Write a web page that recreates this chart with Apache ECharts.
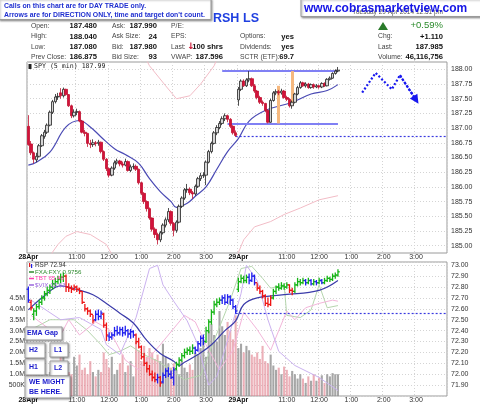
<!DOCTYPE html>
<html>
<head>
<meta charset="utf-8">
<script src="https://cdn.jsdelivr.net/npm/echarts@6/dist/echarts.min.js"></script>
<style>
  html, body { margin: 0; padding: 0; background: #fff; }
  #chart { width: 480px; height: 406px; }
</style>
</head>
<body>
<div id="chart"></div>
<script>
  // x axis: two sessions of 5 min bars
  const days = ['28Apr', '29Apr']
  const hourLabels = ['11:00', '12:00', '1:00', '2:00', '3:00']
  const barsPerDay = 78

  // tick labels
  const spyTicks = [185.00, 185.25, 185.50, 185.75, 186.00, 186.25, 186.50, 186.75, 187.00, 187.25, 187.50, 187.75, 188.00]
  const rspTicks = [71.9, 72.0, 72.1, 72.2, 72.3, 72.4, 72.5, 72.6, 72.7, 72.8, 72.9, 73.0]
  const volTicks = [0.5, 1.0, 1.5, 2.0, 2.5, 3.0, 3.5, 4.0, 4.5]

  // SPY 5 min candles [open, close, low, high]
  const spyDay1 = [
    [187.03, 186.72, 186.70, 187.22], [186.73, 186.58, 186.54, 186.78], [186.58, 186.47, 186.40, 186.60], [186.46, 186.52, 186.42, 186.58],
    [186.52, 186.70, 186.50, 186.73], [186.70, 186.87, 186.68, 186.90], [186.86, 186.93, 186.82, 186.97], [186.93, 187.05, 186.90, 187.08],
    [187.05, 187.27, 187.03, 187.30], [187.27, 187.45, 187.24, 187.48], [187.45, 187.53, 187.42, 187.58], [187.53, 187.54, 187.48, 187.60],
    [187.60, 187.55, 187.50, 187.68], [187.55, 187.66, 187.52, 187.69], [187.66, 187.57, 187.55, 187.67], [187.57, 187.38, 187.36, 187.58],
    [187.38, 187.21, 187.17, 187.40], [187.21, 187.27, 187.18, 187.32], [187.27, 187.28, 187.22, 187.33], [187.28, 187.12, 187.10, 187.30],
    [187.12, 186.93, 186.91, 187.14], [186.93, 186.91, 186.86, 186.97], [186.91, 186.74, 186.68, 186.92], [186.74, 186.72, 186.66, 186.80],
    [186.72, 186.75, 186.68, 186.81], [186.75, 186.74, 186.69, 186.78], [186.74, 186.76, 186.70, 186.80], [186.76, 186.60, 186.57, 186.77],
    [186.60, 186.47, 186.44, 186.62], [186.47, 186.31, 186.27, 186.49], [186.31, 186.20, 186.16, 186.33], [186.20, 186.32, 186.18, 186.35],
    [186.32, 186.41, 186.29, 186.45], [186.41, 186.44, 186.38, 186.48], [186.44, 186.39, 186.35, 186.46], [186.39, 186.37, 186.33, 186.43],
    [186.37, 186.43, 186.35, 186.48], [186.43, 186.28, 186.26, 186.45], [186.28, 186.34, 186.25, 186.38], [186.34, 186.35, 186.30, 186.40],
    [186.35, 186.30, 186.27, 186.38], [186.30, 186.07, 186.04, 186.31], [186.07, 185.89, 185.86, 186.09], [185.89, 185.75, 185.71, 185.91],
    [185.75, 185.63, 185.58, 185.77], [185.63, 185.47, 185.44, 185.65], [185.47, 185.28, 185.24, 185.48], [185.28, 185.19, 185.13, 185.31],
    [185.19, 185.10, 185.02, 185.22], [185.10, 185.22, 185.06, 185.25], [185.22, 185.35, 185.19, 185.38], [185.35, 185.44, 185.31, 185.48],
    [185.44, 185.58, 185.40, 185.64], [185.58, 185.38, 185.34, 185.60], [185.38, 185.26, 185.16, 185.40], [185.26, 185.40, 185.22, 185.43],
    [185.40, 185.67, 185.38, 185.70], [185.67, 185.81, 185.64, 185.84], [185.81, 185.95, 185.78, 185.98], [185.95, 185.96, 185.90, 186.05],
    [185.96, 185.90, 185.86, 185.99], [185.90, 185.88, 185.80, 185.93], [185.88, 186.01, 185.85, 186.04], [186.01, 186.14, 185.98, 186.17],
    [186.14, 186.19, 186.10, 186.24], [186.19, 186.20, 186.15, 186.25], [186.20, 186.42, 186.03, 186.45], [186.42, 186.60, 186.40, 186.63],
    [186.60, 186.74, 186.57, 186.77], [186.74, 186.92, 186.72, 186.95], [186.92, 187.01, 186.88, 187.05], [187.01, 187.08, 186.98, 187.12],
    [187.08, 187.16, 187.05, 187.20], [187.16, 187.21, 187.12, 187.25], [187.21, 187.15, 187.10, 187.23], [187.15, 187.03, 187.00, 187.17],
    [187.03, 186.92, 186.89, 187.05], [186.92, 186.875, 186.85, 186.96]
  ]
  const spyDay2 = [
    [187.48, 187.66, 187.38, 187.70], [187.66, 187.80, 187.63, 187.83], [187.80, 187.72, 187.70, 187.83], [187.72, 187.82, 187.70, 187.85],
    [187.82, 187.84, 187.78, 187.97], [187.84, 187.72, 187.70, 187.86], [187.72, 187.63, 187.60, 187.75], [187.63, 187.52, 187.49, 187.65],
    [187.52, 187.44, 187.41, 187.55], [187.44, 187.42, 187.38, 187.47], [187.42, 187.30, 187.27, 187.43], [187.30, 187.10, 187.08, 187.32],
    [187.10, 187.47, 187.09, 187.50], [187.47, 187.60, 187.45, 187.63], [187.60, 187.62, 187.56, 187.66], [187.62, 187.60, 187.56, 187.65],
    [187.60, 187.63, 187.57, 187.67], [187.63, 187.52, 187.50, 187.65], [187.52, 187.49, 187.46, 187.55], [187.49, 187.38, 187.35, 187.51],
    [187.38, 187.44, 187.33, 187.47], [187.44, 187.58, 187.42, 187.60], [187.58, 187.69, 187.56, 187.72], [187.69, 187.77, 187.67, 187.80],
    [187.77, 187.72, 187.70, 187.79], [187.72, 187.75, 187.69, 187.78], [187.75, 187.69, 187.67, 187.77], [187.69, 187.74, 187.67, 187.76],
    [187.74, 187.70, 187.67, 187.76], [187.70, 187.72, 187.68, 187.75], [187.72, 187.70, 187.67, 187.74], [187.70, 187.76, 187.68, 187.78],
    [187.76, 187.72, 187.70, 187.78], [187.72, 187.83, 187.71, 187.85], [187.83, 187.85, 187.81, 187.88], [187.85, 187.93, 187.84, 187.95],
    [187.93, 187.97, 187.91, 188.00], [187.97, 187.985, 187.95, 188.04]
  ]

  // SPY moving average and bands, [bar, value]
  const spyMA = [[0, 186.37], [3, 186.42], [8, 186.59], [14, 187.02], [19, 187.13], [23, 187.02], [27, 186.85], [32, 186.65],
    [36, 186.55], [41, 186.40], [45, 186.14], [49, 185.92], [53, 185.75], [55, 185.65], [59, 185.72], [62, 185.84],
    [66, 186.00], [70, 186.30], [74, 186.60], [78, 186.82], [82, 187.12], [88, 187.30], [98, 187.44], [105, 187.58],
    [111, 187.64], [115, 187.74]]
  const bandUpper = [[40, 188.50], [45, 188.06], [51, 187.72], [55, 187.50], [60, 187.55], [64, 187.75], [69, 188.06], [73, 188.50]]
  const bandLower1 = [[5, 184.50], [9, 184.89], [11, 185.02], [14, 185.16], [18, 185.24], [23, 185.19], [29, 185.02], [31, 184.85], [35, 184.50]]
  const bandLower2 = [[76, 184.40], [78, 184.88], [80, 185.10], [84, 185.32], [90, 185.41], [95, 185.53], [101, 185.64], [108, 185.78], [115, 185.85]]

  // drawn annotations on SPY: [from bar, to bar, price] / [bar, low, high]
  const spyLevels = [[72, 115, 187.98], [74, 115, 187.07]]
  const spyPivot = [77, 155, 186.86]
  const spyOrange = [[93, 187.08, 187.72], [98, 187.38, 187.97]]
  const arrowPath = [[124, 187.605], [129, 187.94], [135, 187.66], [138, 187.90], [144, 187.48]]

  // RSP 5 min bars [open, close, low, high] and impulse colour code
  const rspDay1 = [
    [72.78, 72.68, 72.66, 72.80], [72.66, 72.61, 72.59, 72.68], [72.55, 72.58, 72.50, 72.60], [72.58, 72.62, 72.54, 72.64],
    [72.62, 72.66, 72.60, 72.68], [72.66, 72.70, 72.64, 72.72], [72.70, 72.74, 72.68, 72.76], [72.74, 72.77, 72.72, 72.80],
    [72.77, 72.80, 72.74, 72.82], [72.80, 72.83, 72.78, 72.86], [72.83, 72.85, 72.80, 72.88], [72.85, 72.87, 72.83, 72.90],
    [72.87, 72.89, 72.84, 72.92], [72.89, 72.90, 72.85, 72.93], [72.90, 72.80, 72.76, 72.91], [72.80, 72.79, 72.76, 72.83],
    [72.79, 72.78, 72.75, 72.81], [72.78, 72.80, 72.77, 72.82], [72.80, 72.78, 72.76, 72.81], [72.78, 72.76, 72.74, 72.79],
    [72.76, 72.66, 72.65, 72.76], [72.66, 72.60, 72.58, 72.64], [72.60, 72.58, 72.55, 72.61], [72.58, 72.55, 72.53, 72.59],
    [72.55, 72.49, 72.47, 72.54], [72.50, 72.55, 72.49, 72.58], [72.55, 72.53, 72.50, 72.59], [72.53, 72.56, 72.51, 72.58],
    [72.55, 72.45, 72.43, 72.56], [72.45, 72.36, 72.31, 72.47], [72.35, 72.34, 72.31, 72.38], [72.34, 72.36, 72.32, 72.38],
    [72.36, 72.40, 72.35, 72.43], [72.40, 72.38, 72.36, 72.44], [72.38, 72.41, 72.36, 72.43], [72.41, 72.38, 72.35, 72.43],
    [72.38, 72.40, 72.36, 72.44], [72.40, 72.37, 72.34, 72.41], [72.37, 72.39, 72.33, 72.41], [72.39, 72.36, 72.34, 72.40],
    [72.36, 72.30, 72.28, 72.37], [72.30, 72.25, 72.24, 72.33], [72.25, 72.16, 72.14, 72.26], [72.16, 72.10, 72.08, 72.19],
    [72.10, 72.05, 72.02, 72.11], [72.05, 72.00, 71.99, 72.08], [72.00, 71.97, 71.94, 72.03], [71.97, 71.95, 71.93, 72.01],
    [71.95, 71.97, 71.92, 72.00], [71.97, 71.92, 71.89, 71.98], [71.93, 71.99, 71.92, 72.01], [71.99, 72.03, 71.97, 72.05],
    [72.03, 72.00, 71.98, 72.06], [72.00, 71.97, 71.96, 72.03], [71.97, 72.04, 71.90, 72.06], [72.05, 72.09, 72.04, 72.11],
    [72.09, 72.13, 72.07, 72.15], [72.13, 72.17, 72.12, 72.19], [72.17, 72.20, 72.15, 72.23], [72.20, 72.22, 72.18, 72.24],
    [72.22, 72.21, 72.18, 72.25], [72.21, 72.24, 72.19, 72.27], [72.24, 72.22, 72.19, 72.25], [72.22, 72.28, 72.21, 72.30],
    [72.28, 72.33, 72.26, 72.35], [72.33, 72.30, 72.27, 72.36], [72.30, 72.40, 72.29, 72.43], [72.40, 72.48, 72.38, 72.50],
    [72.48, 72.57, 72.46, 72.59], [72.57, 72.64, 72.55, 72.67], [72.64, 72.66, 72.62, 72.69], [72.66, 72.68, 72.64, 72.70],
    [72.68, 72.70, 72.65, 72.72], [72.70, 72.66, 72.64, 72.73], [72.66, 72.71, 72.65, 72.73], [72.71, 72.68, 72.64, 72.72],
    [72.68, 72.62, 72.60, 72.69], [72.62, 72.58, 72.56, 72.63]
  ]
  const rspDay2 = [
    [72.78, 72.85, 72.76, 72.88], [72.85, 72.88, 72.84, 72.91], [72.88, 72.86, 72.84, 72.90], [72.86, 72.89, 72.84, 72.91],
    [72.89, 72.86, 72.83, 72.92], [72.86, 72.90, 72.85, 72.93], [72.90, 72.84, 72.82, 72.91], [72.84, 72.79, 72.77, 72.83],
    [72.79, 72.76, 72.74, 72.81], [72.76, 72.72, 72.70, 72.77], [72.72, 72.65, 72.63, 72.73], [72.65, 72.64, 72.62, 72.70],
    [72.64, 72.70, 72.63, 72.72], [72.70, 72.76, 72.69, 72.78], [72.76, 72.80, 72.74, 72.81], [72.80, 72.79, 72.77, 72.83],
    [72.79, 72.81, 72.78, 72.84], [72.81, 72.80, 72.78, 72.83], [72.80, 72.82, 72.79, 72.84], [72.82, 72.77, 72.75, 72.82],
    [72.77, 72.76, 72.73, 72.79], [72.76, 72.82, 72.75, 72.84], [72.82, 72.85, 72.81, 72.88], [72.85, 72.84, 72.82, 72.87],
    [72.84, 72.86, 72.83, 72.88], [72.86, 72.84, 72.82, 72.87], [72.84, 72.86, 72.83, 72.88], [72.86, 72.83, 72.82, 72.87],
    [72.83, 72.85, 72.82, 72.87], [72.85, 72.84, 72.82, 72.86], [72.84, 72.86, 72.83, 72.88], [72.86, 72.84, 72.83, 72.87],
    [72.84, 72.86, 72.83, 72.88], [72.86, 72.88, 72.85, 72.90], [72.88, 72.87, 72.85, 72.89], [72.87, 72.90, 72.86, 72.92],
    [72.90, 72.91, 72.88, 72.93], [72.91, 72.94, 72.90, 72.96]
  ]
  const rspImpulse1 = 'brgggggggggggg' + 'rrrrrrrrrrr' + 'bbb' + 'rr' + 'bbbbbbbbbb' + 'rrrrrrrr' + 'br' + 'bbbbb' + 'ggggggg' + 'bbbb' + 'gggggg' + 'bbbbbb'
  const rspImpulse2 = 'gggg' + 'bbb' + 'rrrrrr' + 'gggggg' + 'rr' + 'gggg' + 'bgbgbgb' + 'gggggg'
  const rspMA = [[0, 72.59], [6, 72.72], [12, 72.81], [19, 72.77], [24, 72.73], [29, 72.65], [34, 72.56], [39, 72.47],
    [44, 72.31], [49, 72.19], [54, 72.12], [56, 72.08], [58, 72.11], [63, 72.18], [68, 72.27], [73, 72.40],
    [77, 72.49], [80, 72.64], [85, 72.70], [95, 72.73], [108, 72.77], [115, 72.86]]
  const rspPivot = [77, 155, 72.56]

  // volume, millions
  const volDay1 = [2.2, 1.6, 1.4, 1.3, 1.1, 1.2, 0.9, 1.0, 1.1, 0.8, 1.0, 0.9,
    1.8, 1.9, 1.2, 1.1, 1.0, 1.8, 1.4, 1.9, 1.2,
    1.3, 1.0, 1.6, 1.1, 0.9, 1.2, 1.1, 2.0, 1.7, 1.3, 1.8, 1.0, 1.2,
    1.5, 1.9, 1.1, 1.4, 1.6, 0.9, 2.5, 2.1, 1.6, 2.3, 1.8,
    2.2, 2.0, 1.7, 1.9, 1.6, 2.4, 1.8, 1.5, 1.3,
    1.5, 1.2, 1.0, 1.6, 1.3, 1.1, 1.45, 1.2, 2.0, 1.9,
    2.2, 2.6, 1.8, 3.0, 3.3, 2.8, 2.5, 3.9, 3.2, 2.8, 3.4, 3.0, 2.6, 3.7]
  const volDay2 = [2.2, 2.4, 2.0, 2.3, 2.1, 1.9, 1.8, 2.0, 1.7, 2.3, 1.6, 1.5, 1.9,
    1.4, 1.2, 1.3, 1.0, 1.35, 1.2, 0.9, 1.15, 1.0, 0.8,
    1.0, 0.8, 0.6, 0.9, 0.7, 1.0, 0.7, 0.85, 0.95, 0.6, 1.0, 0.9, 1.05, 1.0, 1.0]

  // comparison lines in the lower panel, [bar, value on RSP scale]
  const fxaFxy = [[1, 72.41], [8, 72.50], [17, 72.50], [22, 72.40], [27, 72.27], [30, 72.18], [34, 72.21], [38, 72.26],
    [43, 72.18], [48, 72.12], [53, 72.04], [58, 71.95], [64, 71.99], [69, 72.31], [75, 72.68], [79, 72.97],
    [83, 72.99], [87, 72.88], [90, 72.79], [95, 72.82], [96, 72.54], [101, 72.52], [105, 72.59], [108, 72.82],
    [111, 72.61], [115, 72.63]]
  const tbt = [[1, 72.54], [8, 72.41], [12, 72.36], [15, 72.50], [19, 72.36], [25, 72.48], [30, 72.41], [36, 72.13],
    [41, 72.04], [49, 72.27], [58, 72.54], [62, 72.48], [66, 72.27], [71, 72.04], [76, 72.22], [80, 72.57],
    [85, 72.41], [90, 72.22], [96, 72.58], [99, 72.50], [103, 72.61], [108, 72.65], [113, 72.68], [115, 72.67]]
  const vix = [[1, 72.68], [12, 72.50], [19, 72.52], [27, 72.41], [29, 72.27], [34, 72.18], [40, 72.52], [45, 72.97],
    [48, 73.00], [50, 72.82], [54, 72.67], [59, 72.49], [63, 72.27], [67, 71.90], [70, 71.98], [74, 72.31],
    [79, 72.74], [81, 73.00], [85, 72.86], [89, 72.50], [93, 72.21], [99, 72.08], [108, 71.97], [115, 71.85]]

  // quote panel
  const quoteLabels = [
    ['Open:', 'High:', 'Low:', 'Prev Close:'],
    ['Ask:', 'Ask Size:', 'Bid:', 'Bid Size:'],
    ['P/E:', 'EPS:', 'Last:', 'VWAP:'],
    ['', 'Options:', 'Dividends:', 'SCTR (ETF):'],
    ['', 'Chg:', 'Last:', 'Volume:']
  ]
  const quoteValues = [
    ['187.480', '188.040', '187.080', '186.875'],
    ['187.990', '24', '187.980', '93'],
    ['', '', '100 shrs', '187.596'],
    ['', 'yes', 'yes', '69.7'],
    ['', '+1.110', '187.985', '46,116,756']
  ]

  const categories = []
  days.forEach(d => {
    for (let k = 0; k < barsPerDay; k++) {
      const min = 570 + k * 5
      const h = Math.floor(min / 60)
      const m = min % 60
      categories.push(d + ' ' + (h > 12 ? h - 12 : h) + ':' + (m < 10 ? '0' + m : m))
    }
  })
  const cat = i => categories[i]
  const isMark = (i, v) => {
    const t = v.split(' ')[1]
    return t === '9:30' || hourLabels.indexOf(t) >= 0
  }
  const tickLabel = v => {
    const p = v.split(' ')
    return p[1] === '9:30' ? '{d|' + p[0] + '}' : p[1]
  }
  const inList = (list, v) => list.some(t => Math.abs(t - v) < 1e-6)

  const spyCandles = spyDay1.concat(spyDay2)
  const rspBars = rspDay1.concat(rspDay2)
  const rspImpulse = (rspImpulse1 + rspImpulse2).split('')
  const impulseColors = { g: '#14b414', b: '#2020ee', r: '#ee1414' }
  const volumes = volDay1.concat(volDay2)

  const FONT = '"Liberation Sans", Arial, sans-serif'
  const gridLine = { show: true, lineStyle: { color: '#d4d4d4', type: [1, 2], width: 1 } }

  function xAxisFor(gridIndex) {
    return {
      type: 'category',
      gridIndex: gridIndex,
      data: categories,
      boundaryGap: true,
      axisLine: { show: false },
      axisTick: { show: false },
      axisLabel: {
        interval: isMark,
        formatter: tickLabel,
        color: '#333',
        fontSize: 7,
        margin: 1,
        rich: { d: { fontWeight: 'bold', color: '#111', fontSize: 7 } }
      },
      splitLine: { show: true, interval: isMark, lineStyle: gridLine.lineStyle }
    }
  }

  function txt(x, y, s, font, fill, align) {
    return {
      type: 'text', x: x, y: y, z: 100,
      style: { text: s, font: font, fill: fill, align: align || 'left', verticalAlign: 'middle', textAlign: align || 'left', textVerticalAlign: 'middle' }
    }
  }
  function box(x, y, w, h) {
    return {
      type: 'rect', z: 99,
      shape: { x: x, y: y, width: w, height: h },
      style: { fill: '#fff', stroke: '#9a9a9a', lineWidth: 1, shadowBlur: 2, shadowOffsetX: 1, shadowOffsetY: 1, shadowColor: 'rgba(0,0,0,0.35)' }
    }
  }

  // header and annotation boxes
  const graphics = []
  const rowY = [26, 36.5, 47, 57]
  const labelX = [31, 112, 171, 240, 378]
  const valueX = [97, 157, 223, 294, 443]
  quoteLabels.forEach((col, c) => {
    col.forEach((s, r) => {
      if (s) graphics.push(txt(labelX[c], rowY[r], s, '6.8px ' + FONT, '#444'))
      const v = quoteValues[c][r]
      if (v) graphics.push(txt(valueX[c], rowY[r], v, 'bold 7.6px ' + FONT, '#111', 'right'))
    })
  })
  graphics.push(txt(191, 47, '\u2193', 'bold 9px "DejaVu Sans"', '#c8102e', 'center'))
  graphics.push(txt(443, 12.5, 'Tuesday 29 Apr 2014 12:51 pm', '6.5px ' + FONT, '#555', 'right'))
  graphics.push({ type: 'polygon', z: 100, shape: { points: [[378, 30], [383, 22], [388, 30]] }, style: { fill: '#2a7a2a' } })
  graphics.push(txt(443, 25.5, '+0.59%', '9.5px ' + FONT, '#2a8a2a', 'right'))
  graphics.push(txt(213, 19, 'RSH', 'bold 12.5px ' + FONT, '#1f3fe0'))
  graphics.push(txt(243, 19, 'LS', 'bold 12.5px ' + FONT, '#1f3fe0'))
  graphics.push(box(-1, -1, 212, 20.5))
  graphics.push(txt(4, 6, 'Calls on this chart are for DAY TRADE only.', 'bold 6.9px ' + FONT, '#1f2fd0'))
  graphics.push(txt(4, 15, 'Arrows are for DIRECTION ONLY, time and target don\'t count.', 'bold 6.9px ' + FONT, '#1f2fd0'))
  graphics.push(box(301, -1, 182, 17.5))
  graphics.push(txt(304, 8.5, 'www.cobrasmarketview.com', 'bold 12px ' + FONT, '#1515e6'))

  // panel legends
  graphics.push({ type: 'rect', z: 100, shape: { x: 28.5, y: 64, width: 3, height: 5 }, style: { fill: '#222' } })
  graphics.push(txt(34, 66.5, 'SPY (5 min) 187.99', '6.6px "DejaVu Sans Mono"', '#222'))
  graphics.push({ type: 'rect', z: 100, shape: { x: 29, y: 263, width: 1.2, height: 4 }, style: { fill: '#e02020' } })
  graphics.push({ type: 'rect', z: 100, shape: { x: 31, y: 264, width: 1.2, height: 4 }, style: { fill: '#2020e0' } })
  graphics.push(txt(35, 265.5, 'RSP 72.94', '6.4px ' + FONT, '#333'))
  const legendRows = [['FXA:FXY 0.9756', '#2d8a2d', 272], ['TBT 65.46', '#ff40b0', 278.5], ['$VIX 13.63', '#9a66dd', 285]]
  legendRows.forEach(r => {
    graphics.push({ type: 'line', z: 100, shape: { x1: 29, y1: r[2], x2: 34, y2: r[2] }, style: { stroke: r[1], lineWidth: 1.5 } })
    graphics.push(txt(35, r[2], r[0], '6.2px ' + FONT, r[1]))
  })

  // hand-drawn notes in the lower panel
  const noteFont = 'bold 7px ' + FONT
  const noteColor = '#1a1acc'
  graphics.push(box(25, 327, 37, 13), txt(27, 333.5, 'EMA Gap', noteFont, noteColor))
  graphics.push(box(25, 343, 20, 15), txt(29, 350.5, 'H2', noteFont, noteColor))
  graphics.push(box(50, 343, 18, 14), txt(54, 350, 'L1', noteFont, noteColor))
  graphics.push(box(25, 359, 20, 16), txt(29, 367, 'H1', noteFont, noteColor))
  graphics.push(box(50, 361, 18, 15), txt(54, 368.5, 'L2', noteFont, noteColor))
  graphics.push(box(25, 376, 45, 22), txt(29, 382, 'WE MIGHT', noteFont, noteColor), txt(29, 392, 'BE HERE.', noteFont, noteColor))

  const levelLine = { color: '#8080f4', width: 2, type: 'solid' }
  const pivotLine = { color: '#3a3ae0', width: 1.2, type: [2, 2] }
  const orangeLine = { color: '#f6b87e', width: 3, type: 'solid' }
  const arrowStyle = { color: '#1818f0', width: 2.2, type: [2, 2] }

  const chart = echarts.init(document.getElementById('chart'), null, { renderer: 'canvas' })
  const option = {
    animation: false,
    backgroundColor: '#fff',
    textStyle: { fontFamily: FONT },
    graphic: graphics,
    grid: [
      { left: 27, right: 33, top: 62, height: 191, show: true, borderColor: '#9a9a9a', borderWidth: 1, backgroundColor: '#fff', outerBoundsMode: 'none', containLabel: false },
      { left: 27, right: 33, top: 262, height: 134, show: true, borderColor: '#9a9a9a', borderWidth: 1, backgroundColor: '#fff', outerBoundsMode: 'none', containLabel: false }
    ],
    xAxis: [xAxisFor(0), xAxisFor(1)],
    yAxis: [
      {
        type: 'value', gridIndex: 0, position: 'right', scale: true,
        min: 184.875, max: 188.125, interval: 0.125,
        axisLine: { show: false }, axisTick: { show: false },
        axisLabel: { formatter: v => inList(spyTicks, v) ? v.toFixed(2) : '', color: '#333', fontSize: 7, margin: 4 },
        splitLine: { show: true, lineStyle: { color: ['rgba(0,0,0,0)', '#d4d4d4'], type: [1, 2] } }
      },
      {
        type: 'value', gridIndex: 1, position: 'right', scale: true,
        min: 71.8, max: 73.03, interval: 0.1,
        axisLine: { show: false }, axisTick: { show: false },
        axisLabel: { formatter: v => inList(rspTicks, v) ? v.toFixed(2) : '', color: '#333', fontSize: 7, margin: 4 },
        splitLine: gridLine
      },
      {
        type: 'value', gridIndex: 1, position: 'left',
        min: 0, max: 6.15, interval: 0.5,
        axisLine: { show: false }, axisTick: { show: false },
        axisLabel: {
          formatter: v => inList(volTicks, v) ? (v < 1 ? Math.round(v * 1000) + 'K' : v.toFixed(1) + 'M') : '',
          color: '#333', fontSize: 7, margin: 2
        },
        splitLine: { show: false }
      }
    ],
    series: [
      { type: 'line', xAxisIndex: 0, yAxisIndex: 0, data: bandUpper, symbol: 'none', silent: true, z: 2, lineStyle: { color: '#f2bcc6', width: 1 } },
      { type: 'line', xAxisIndex: 0, yAxisIndex: 0, data: bandLower1, symbol: 'none', silent: true, z: 2, lineStyle: { color: '#f2bcc6', width: 1 } },
      { type: 'line', xAxisIndex: 0, yAxisIndex: 0, data: bandLower2, symbol: 'none', silent: true, z: 2, lineStyle: { color: '#f2bcc6', width: 1 } },
      { type: 'line', xAxisIndex: 0, yAxisIndex: 0, data: spyMA, symbol: 'none', smooth: 0.4, silent: true, z: 3, lineStyle: { color: '#4a4ab4', width: 1.2 } },
      {
        type: 'candlestick', xAxisIndex: 0, yAxisIndex: 0, data: spyCandles, barWidth: 3, z: 5,
        itemStyle: { color: '#d6d6d6', color0: '#d3123c', borderColor: '#222', borderColor0: '#c0102e', borderWidth: 0.8 },
        markLine: {
          silent: true, symbol: ['none', 'none'], label: { show: false },
          data: spyLevels.map(l => [{ coord: [cat(l[0]), l[2]], lineStyle: levelLine }, { coord: [cat(l[1]), l[2]] }])
            .concat(spyOrange.map(o => [{ coord: [cat(o[0]), o[1]], lineStyle: orangeLine }, { coord: [cat(o[0]), o[2]] }]))
            .concat([[{ coord: [cat(spyPivot[0]), spyPivot[2]], lineStyle: pivotLine }, { coord: [cat(spyPivot[1]), spyPivot[2]] }]])
        }
      },
      {
        type: 'line', xAxisIndex: 0, yAxisIndex: 0, data: arrowPath, symbol: 'none', silent: true, z: 6, lineStyle: arrowStyle,
        markLine: {
          silent: true, symbol: ['none', 'triangle'], symbolSize: 9, label: { show: false },
          lineStyle: arrowStyle,
          data: [[{ coord: [cat(arrowPath[3][0]), arrowPath[3][1]] }, { coord: [cat(arrowPath[4][0]), arrowPath[4][1]] }]]
        }
      },
      {
        type: 'bar', xAxisIndex: 1, yAxisIndex: 2, barWidth: '78%', silent: true, z: 1,
        data: volumes.map((v, i) => ({
          value: v,
          itemStyle: { color: spyCandles[i][1] < spyCandles[i][0] ? 'rgba(224,124,136,0.6)' : 'rgba(145,145,145,0.8)' }
        }))
      },
      { type: 'line', xAxisIndex: 1, yAxisIndex: 1, data: fxaFxy, symbol: 'none', silent: true, z: 2, lineStyle: { color: '#b6d6ae', width: 1 } },
      { type: 'line', xAxisIndex: 1, yAxisIndex: 1, data: tbt, symbol: 'none', silent: true, z: 2, lineStyle: { color: '#f3b6da', width: 1 } },
      { type: 'line', xAxisIndex: 1, yAxisIndex: 1, data: vix, symbol: 'none', silent: true, z: 2, lineStyle: { color: '#cbb2f0', width: 1 } },
      {
        type: 'line', xAxisIndex: 1, yAxisIndex: 1, data: rspMA, symbol: 'none', smooth: 0.4, silent: true, z: 3,
        lineStyle: { color: '#3c3caa', width: 1.2 },
        markLine: {
          silent: true, symbol: ['none', 'none'], label: { show: false },
          data: [[{ coord: [cat(rspPivot[0]), rspPivot[2]], lineStyle: pivotLine }, { coord: [cat(rspPivot[1]), rspPivot[2]] }]]
        }
      },
      {
        type: 'custom', xAxisIndex: 1, yAxisIndex: 1, z: 4, silent: true,
        data: rspBars.map((b, i) => [i, b[0], b[1], b[2], b[3]]),
        encode: { x: 0, y: [1, 2, 3, 4] },
        renderItem: function (params, api) {
          const i = api.value(0)
          const o = api.coord([i, api.value(1)])
          const c = api.coord([i, api.value(2)])
          const lo = api.coord([i, api.value(3)])
          const hi = api.coord([i, api.value(4)])
          const style = { stroke: impulseColors[rspImpulse[params.dataIndex]], lineWidth: 1.3 }
          return {
            type: 'group',
            children: [
              { type: 'line', shape: { x1: hi[0], y1: hi[1] - 0.5, x2: lo[0], y2: lo[1] + 0.5 }, style: style },
              { type: 'line', shape: { x1: o[0] - 1.8, y1: o[1], x2: o[0], y2: o[1] }, style: style },
              { type: 'line', shape: { x1: c[0], y1: c[1], x2: c[0] + 1.8, y2: c[1] }, style: style }
            ]
          }
        }
      }
    ]
  }
  chart.setOption(option)
</script>
</body>
</html>
